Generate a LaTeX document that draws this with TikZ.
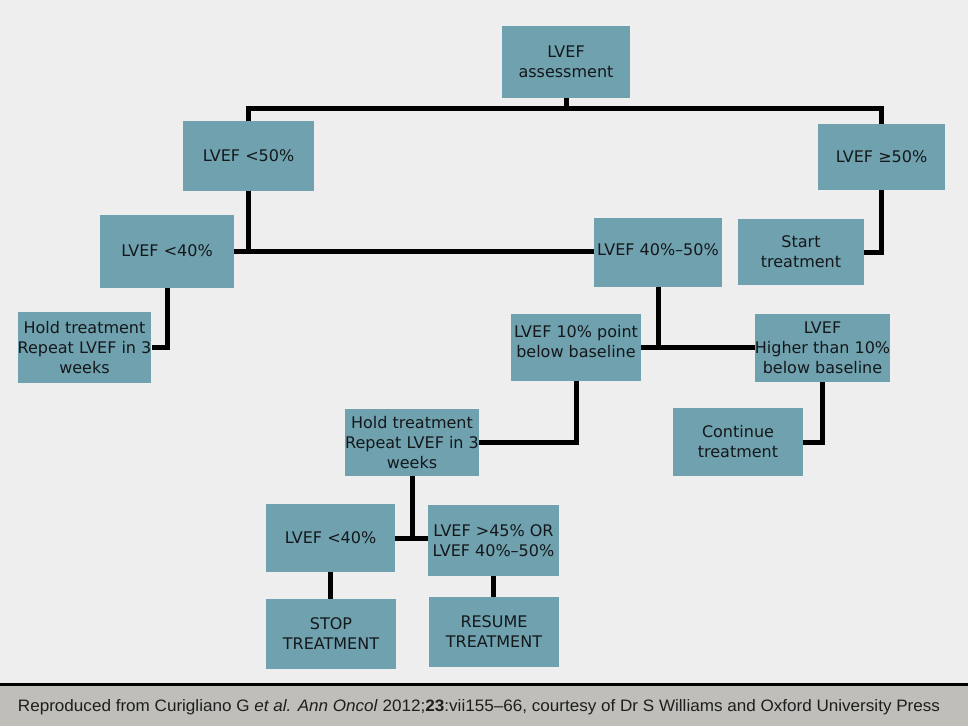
\documentclass[tikz,border=0pt]{standalone}
\usepackage{graphicx}
\usepackage{fontspec}
\setmainfont{DejaVu Sans}
\newfontfamily\footfont{Liberation Sans}
\definecolor{boxfill}{RGB}{112,161,175}
\definecolor{bg}{RGB}{238,238,238}
\definecolor{footbg}{RGB}{191,190,185}
\definecolor{txt}{RGB}{20,24,26}
\begin{document}
\begin{tikzpicture}[x=0.75pt,y=-0.75pt,
  box/.style={fill=boxfill, draw=none, text=txt, align=center, inner sep=0pt, font=\fontsize{12}{15}\selectfont},
  conn/.style={line width=3.75pt, black}]
\fill[bg] (0,0) rectangle (968,726);
\useasboundingbox (0,0) rectangle (968,726);
\fill[footbg] (0,686) rectangle (968,726);
\fill[black] (0,683) rectangle (968,686);

\node[box, minimum width=96pt, minimum height=54pt] (assess) at (566,62) {LVEF\\assessment};
\node[box, minimum width=98.25pt, minimum height=52.5pt] (lt50) at (248.5,156) {LVEF <50\%};
\node[box, minimum width=95.25pt, minimum height=49.5pt] (ge50) at (881.5,157) {LVEF ≥50\%};
\node[box, minimum width=100.5pt, minimum height=54.75pt] (lt40) at (167,251) {LVEF <40\%};
\node[box, minimum width=96pt, minimum height=51.75pt, text depth=4pt] (mid) at (658,252) {LVEF 40\%–50\%};
\node[box, minimum width=94.5pt, minimum height=49.5pt] (start) at (801,252) {Start\\treatment};
\node[box, minimum width=98.25pt, minimum height=53.25pt] (holdL) at (84.5,347.5) {Hold treatment\\Repeat LVEF in 3\\weeks};
\node[box, minimum width=97.5pt, minimum height=50.25pt, text depth=9.75pt] (tenpt) at (576,347.5) {LVEF 10\% point\\below baseline};
\node[box, minimum width=96.75pt, minimum height=51pt] (higher) at (822.5,348) {LVEF\\Higher than 10\%\\below baseline};
\node[box, minimum width=97.5pt, minimum height=51pt] (cont) at (738,442) {Continue\\treatment};
\node[box, minimum width=96pt, minimum height=50.25pt] (holdM) at (412,442.5) {Hold treatment\\Repeat LVEF in 3\\weeks};
\node[box, minimum width=96.75pt, minimum height=51pt] (lt40b) at (330.5,538) {LVEF <40\%};
\node[box, minimum width=98.25pt, minimum height=53.25pt] (rescond) at (493.5,540.5) {LVEF >45\% OR\\LVEF 40\%–50\%};
\node[box, minimum width=97.5pt, minimum height=52.5pt] (stop) at (331,634) {STOP\\TREATMENT};
\node[box, minimum width=97.5pt, minimum height=52.5pt] (resume) at (494,632) {RESUME\\TREATMENT};

\coordinate (top) at (566,108);
\coordinate (j1) at (248.5,251);
\draw[conn] (assess.south) -- (top);
\draw[conn] (lt50.north) |- (top) -| (ge50.north);
\draw[conn] (lt50.south) -- (j1);
\draw[conn] (lt40.east) -- (lt40.east -| mid.west);
\draw[conn] (ge50.south) |- (start.east);
\draw[conn] (lt40.south) |- (holdL.east);
\draw[conn] (mid.south) -- (mid.south |- tenpt.east);
\draw[conn] (tenpt.east) -- (tenpt.east -| higher.west);
\draw[conn] (higher.south) |- (cont.east);
\draw[conn] (tenpt.south) |- (holdM.east);
\draw[conn] (holdM.south) -- (holdM.south |- lt40b.east);
\draw[conn] (lt40b.east) -- (lt40b.east -| rescond.west);
\draw[conn] (lt40b.south) -- (lt40b.south |- stop.north);
\draw[conn] (rescond.south) -- (rescond.south |- resume.north);

\node[anchor=base, inner sep=0pt, text={rgb,255:red,30;green,30;blue,30}] (foot) at (479,711)
  {\resizebox{691.5pt}{9pt}{\footfont Reproduced from Curigliano G \textit{et al. Ann Oncol} 2012;\textbf{23}:vii155–66, courtesy of Dr S Williams and Oxford University Press}};
\end{tikzpicture}
\end{document}
